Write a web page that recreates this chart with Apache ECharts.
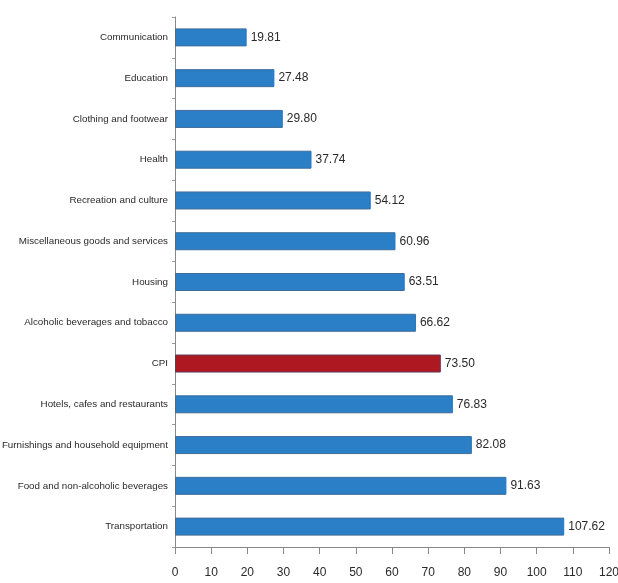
<!DOCTYPE html>
<html>
<head>
<meta charset="utf-8">
<script src="https://cdn.jsdelivr.net/npm/echarts@6/dist/echarts.min.js"></script>
<style>
  html, body { margin: 0; padding: 0; background: #ffffff; }
  #chart { width: 618px; height: 583px; }
</style>
</head>
<body>
<div id="chart"></div>
<script>
// Categories listed bottom-to-top (category axis draws the first entry at the bottom)
const categories = [
  'Transportation',
  'Food and non-alcoholic beverages',
  'Furnishings and household equipment',
  'Hotels, cafes and restaurants',
  'CPI',
  'Alcoholic beverages and tobacco',
  'Housing',
  'Miscellaneous goods and services',
  'Recreation and culture',
  'Health',
  'Clothing and footwear',
  'Education',
  'Communication'
];
const values = [107.62, 91.63, 82.08, 76.83, 73.50, 66.62, 63.51, 60.96, 54.12, 37.74, 29.80, 27.48, 19.81];
const xTicks = [0, 10, 20, 30, 40, 50, 60, 70, 80, 90, 100, 110, 120];

const highlight = 'CPI';
const FONT = '"Liberation Sans", Arial, sans-serif';

const chart = echarts.init(document.getElementById('chart'));
chart.setOption({
  animation: false,
  backgroundColor: '#ffffff',
  grid: { left: 175, right: 9, top: 17, bottom: 36, containLabel: false, outerBoundsMode: 'none' },
  xAxis: {
    type: 'value',
    min: xTicks[0],
    max: xTicks[xTicks.length - 1],
    interval: 10,
    axisLine: { show: true, lineStyle: { color: '#888888', width: 1 } },
    axisTick: { show: true, inside: false, length: 7, lineStyle: { color: '#888888' } },
    splitLine: { show: false },
    axisLabel: {
      margin: 20,
      color: '#2a2a2a',
      fontFamily: FONT,
      fontSize: 12,
      showMinLabel: true,
      showMaxLabel: true
    }
  },
  yAxis: {
    type: 'category',
    data: categories,
    axisLine: { show: true, lineStyle: { color: '#888888', width: 1 } },
    axisTick: { show: true, length: 3, lineStyle: { color: '#999999' } },
    axisLabel: {
      margin: 7,
      color: '#2a2a2a',
      fontFamily: FONT,
      fontSize: 9.8
    }
  },
  series: [{
    type: 'bar',
    barWidth: 18,
    data: values.map((v, i) => ({
      value: v,
      itemStyle: {
        color: categories[i] === highlight ? '#ae1820' : '#2a7fc6',
        borderColor: categories[i] === highlight ? '#5e3a55' : '#3f6d9a',
        borderWidth: 1
      }
    })),
    label: {
      show: true,
      position: 'right',
      distance: 4,
      color: '#2a2a2a',
      fontFamily: FONT,
      fontSize: 12,
      formatter: p => p.value.toFixed(2)
    }
  }]
});
</script>
</body>
</html>
